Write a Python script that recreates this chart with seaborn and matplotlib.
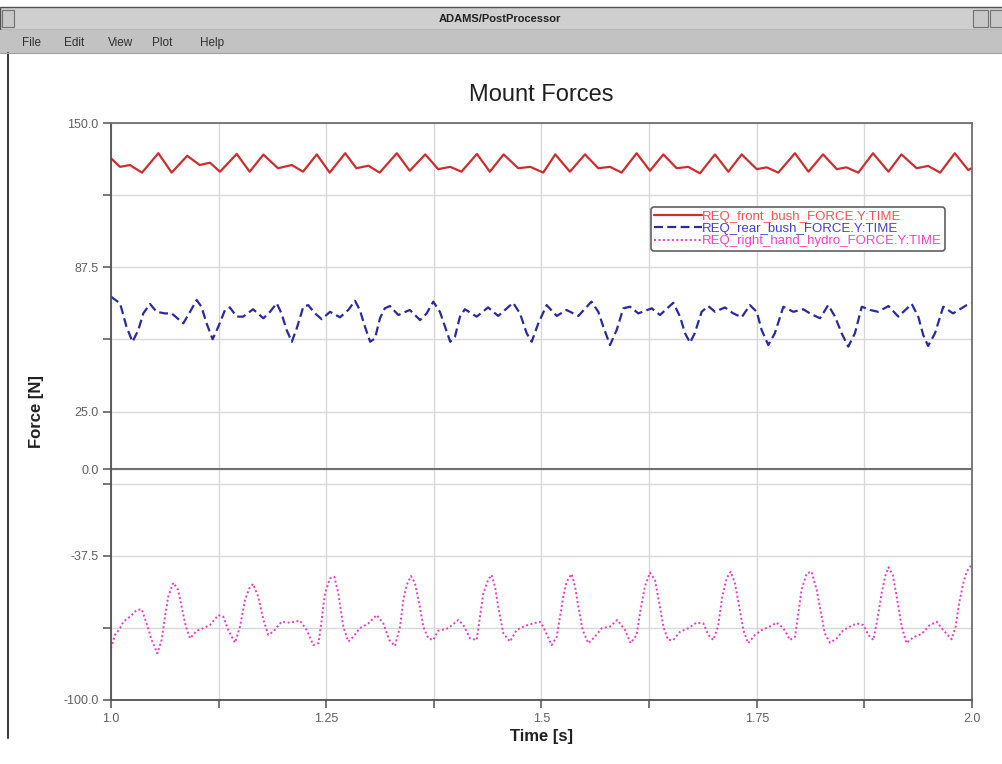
import matplotlib
matplotlib.use("Agg")
import matplotlib.pyplot as plt
from matplotlib.patches import Rectangle
from matplotlib.lines import Line2D
import seaborn as sns
import pandas as pd

# ---------------- data ----------------
front_t = [1.000, 1.0105, 1.022, 1.036, 1.055, 1.0705, 1.0885, 1.103, 1.115, 1.1266,
           1.146, 1.161, 1.177, 1.194, 1.210, 1.223, 1.239, 1.254, 1.272, 1.285,
           1.299, 1.312, 1.332, 1.347, 1.365, 1.380, 1.394, 1.407, 1.425, 1.440,
           1.456, 1.473, 1.487, 1.502, 1.516, 1.533, 1.5505, 1.566, 1.5796, 1.593,
           1.6105, 1.626, 1.6415, 1.657, 1.6705, 1.684, 1.7015, 1.717, 1.7325, 1.750,
           1.7615, 1.775, 1.7944, 1.810, 1.827, 1.843, 1.854, 1.868, 1.885, 1.903,
           1.918, 1.9357, 1.949, 1.963, 1.980, 1.9957, 2.0]
front_f = [134.7, 131, 131.8, 128.5, 136.9, 128.5, 135.8, 131.8, 132.8, 128.9,
           136.6, 128.9, 136.3, 130.4, 131.8, 128.9, 136.4, 128.5, 136.9, 130.4,
           131.5, 128.5, 136.9, 129.3, 136.4, 130, 131, 128.9, 136.6, 128.9,
           136.4, 130.4, 131, 128.5, 136.4, 128.9, 136.4, 130.4, 131, 128.5,
           136.9, 129.3, 136.4, 130.4, 131, 128.2, 136.4, 128.9, 136.4, 130,
           130.8, 128.5, 136.9, 128.9, 136.4, 130, 130.8, 128.5, 136.9, 128.9,
           136.4, 130.4, 131.4, 128.5, 136.9, 129.6, 130.5]

rear_t = [1.000, 1.0105, 1.018, 1.025, 1.0317, 1.0375, 1.0453, 1.053, 1.0627, 1.0705,
          1.084, 1.0918, 1.0995, 1.105, 1.111, 1.118, 1.1246, 1.1324, 1.138, 1.146,
          1.1536, 1.165, 1.177, 1.1847, 1.1925, 1.198, 1.204, 1.21, 1.2157, 1.2234,
          1.229, 1.237, 1.2447, 1.2544, 1.266, 1.2756, 1.2834, 1.289, 1.295, 1.301,
          1.3066, 1.3124, 1.318, 1.324, 1.3337, 1.347, 1.359, 1.3666, 1.3743, 1.382,
          1.388, 1.394, 1.3995, 1.4053, 1.411, 1.4247, 1.438, 1.4497, 1.467, 1.475,
          1.4828, 1.4886, 1.4963, 1.506, 1.5177, 1.529, 1.5428, 1.558, 1.566, 1.5718,
          1.5796, 1.5873, 1.595, 1.6028, 1.6124, 1.628, 1.6376, 1.653, 1.6609, 1.6667,
          1.6725, 1.678, 1.686, 1.6937, 1.7015, 1.713, 1.7228, 1.7325, 1.742, 1.75,
          1.7557, 1.7634, 1.771, 1.7809, 1.7925, 1.804, 1.8118, 1.8235, 1.833, 1.8409,
          1.8486, 1.8563, 1.864, 1.872, 1.8815, 1.891, 1.903, 1.9144, 1.93, 1.9376,
          1.9434, 1.949, 1.957, 1.9666, 1.978, 1.9938, 2.0]
rear_f = [74.7, 71.9, 61.7, 55.2, 60.3, 67.5, 71.6, 68.2, 67.5, 67.5,
          63.2, 68.2, 73.3, 70.4, 63.2, 56.3, 61.7, 69, 70.1, 66.1,
          66.1, 69.3, 65.4, 68.2, 71.9, 67.5, 60.3, 55.2, 61, 70.4,
          71.1, 67.5, 65, 68.2, 65.8, 69, 73, 69, 61.7, 55.2,
          56.7, 65.4, 69.7, 70.7, 66.8, 69, 64.6, 67.5, 72.6, 68.2,
          61.7, 55.2, 57.4, 66.1, 69.3, 66.1, 70.1, 66.4, 72.1, 67.5,
          58.9, 55.2, 63.2, 71.1, 66.4, 69, 66.4, 72.6, 68.2, 61.7,
          53.8, 60.3, 69.7, 70.4, 67.5, 69.7, 66.8, 72.1, 66.1, 58.9,
          54.8, 58.9, 68.2, 70.7, 68.2, 70.1, 67.5, 65.8, 71.1, 68.2,
          60.3, 53.8, 58.9, 70.4, 68.2, 69.3, 67.5, 65.4, 71.1, 66.1,
          58.9, 53.1, 58.9, 70.4, 69, 68.2, 70.7, 66.1, 71.6, 66.1,
          58.1, 53.4, 58.9, 70.4, 67.5, 71.1, 72]

hydro_t = [1.000, 1.0046, 1.0105, 1.0143, 1.022, 1.0298, 1.0356, 1.0414, 1.0472, 1.0538,
           1.0588, 1.0627, 1.0665, 1.0724, 1.078, 1.082, 1.087, 1.0918, 1.0995, 1.107,
           1.115, 1.1246, 1.1304, 1.1362, 1.144, 1.1498, 1.1556, 1.1606, 1.165, 1.171,
           1.177, 1.1827, 1.1885, 1.198, 1.208, 1.2195, 1.2273, 1.235, 1.241, 1.2447,
           1.2485, 1.2544, 1.2594, 1.264, 1.2698, 1.2756, 1.2814, 1.289, 1.2988, 1.3085,
           1.3163, 1.3232, 1.3298, 1.3357, 1.3395, 1.3434, 1.3484, 1.353, 1.358, 1.3627,
           1.3685, 1.3743, 1.380, 1.3918, 1.4034, 1.4092, 1.417, 1.4247, 1.4286, 1.4324,
           1.438, 1.442, 1.446, 1.4497, 1.4556, 1.4634, 1.471, 1.4808, 1.4905, 1.4983,
           1.502, 1.5118, 1.5177, 1.5215, 1.5253, 1.5292, 1.535, 1.539, 1.5428, 1.5478,
           1.5544, 1.562, 1.570, 1.5796, 1.588, 1.597, 1.6035, 1.6105, 1.615, 1.62,
           1.626, 1.6318, 1.6368, 1.6415, 1.647, 1.653, 1.661, 1.6705, 1.680, 1.688,
           1.6937, 1.6995, 1.705, 1.710, 1.715, 1.7197, 1.7247, 1.7297, 1.7344, 1.740,
           1.748, 1.7557, 1.765, 1.773, 1.781, 1.7886, 1.7944, 1.7983, 1.802, 1.808,
           1.8137, 1.8196, 1.8254, 1.829, 1.835, 1.843, 1.8506, 1.8583, 1.866, 1.8738,
           1.8796, 1.8854, 1.890, 1.895, 1.899, 1.903, 1.908, 1.9125, 1.9183, 1.924,
           1.9318, 1.9415, 1.951, 1.959, 1.9666, 1.9763, 1.981, 1.985, 1.9899, 1.9938,
           1.998, 2.0]
hydro_f = [-77.6, -71.8, -68.9, -66.1, -63.9, -61, -60.7, -66.8, -74, -79.8,
           -74, -63.9, -55.2, -49.2, -52.3, -59.6, -68.2, -73.3, -70, -68.9,
           -67.5, -63.2, -63.9, -69.7, -75.2, -68.2, -56.7, -51.6, -49.7, -55.2,
           -65.3, -71.8, -70.4, -66.1, -66.5, -65.6, -69.7, -76.2, -75.4, -65.3,
           -53.8, -47.3, -46.6, -53.8, -68.2, -74.7, -72.6, -68.9, -66.8, -63.2,
           -66.8, -74, -76.6, -68.2, -56.7, -50.2, -46.3, -49.4, -58.1, -68.2,
           -73.3, -74, -70, -68.9, -65.3, -67.5, -73.3, -74, -63.9, -53.8,
           -48, -45.8, -50.9, -59.6, -71.1, -74.7, -69.7, -67.9, -66.8, -66.1,
           -68.2, -76.2, -72.6, -63.9, -55.2, -48.7, -45.4, -50.9, -59.6, -69.7,
           -75.4, -72.6, -68.9, -68.2, -65.3, -69.7, -75.4, -71.8, -61, -50.9,
           -44.8, -48, -58.1, -68.2, -74, -74, -70.4, -68.9, -66.5, -66.8,
           -71.8, -74, -68.2, -55.2, -47.3, -44.4, -49.4, -59.6, -69.7, -75.4,
           -71.8, -69.7, -68.2, -66.5, -68.9, -74, -72.6, -62.4, -52.3, -45.1,
           -44.4, -52.3, -63.9, -71.1, -75.2, -73.3, -69.7, -68.2, -66.8, -67.5,
           -71.8, -74, -65.3, -53.8, -46.6, -42.5, -45.8, -55.2, -68.2, -75.4,
           -72.8, -71.4, -67.5, -66.1, -69.7, -73.7, -68.2, -58.1, -49.4, -44.4,
           -42.2, -41]

series_labels = ["REQ_front_bush_FORCE.Y:TIME",
                 "REQ_rear_bush_FORCE.Y:TIME",
                 "REQ_right_hand_hydro_FORCE.Y:TIME"]

y_ticks = [150, 118.75, 87.5, 56.25, 25, 0, -6.25, -37.5, -68.75, -100]
y_ticklabels = ["150.0", "", "87.5", "", "25.0", "0.0", "", "-37.5", "", "-100.0"]
x_ticks = [1.0, 1.125, 1.25, 1.375, 1.5, 1.625, 1.75, 1.875, 2.0]
x_ticklabels = ["1.0", "", "1.25", "", "1.5", "", "1.75", "", "2.0"]

# ---------------- style ----------------
sns.set_theme(style="white")
plt.rcParams["font.family"] = ["Liberation Sans", "DejaVu Sans"]

W, H = 1003, 764
fig = plt.figure(figsize=(W / 100, H / 100), dpi=100)
fig.patch.set_facecolor("white")

# window chrome
def fr(x0, y0, x1, y1, **kw):
    r = Rectangle((x0 / W, 1 - y1 / H), (x1 - x0) / W, (y1 - y0) / H,
                  transform=fig.transFigure, **kw)
    fig.add_artist(r)

fr(0, 7, 1003, 30, facecolor="#cfcfcf", edgecolor="#505050", linewidth=1.0)
fr(0, 30, 1003, 53, facecolor="#c2c2c2", edgecolor="none")
fr(2, 10, 14, 27, facecolor="#c8c8c8", edgecolor="#707070", linewidth=0.8)
fr(973, 10, 988, 27, facecolor="#c8c8c8", edgecolor="#707070", linewidth=0.8)
fr(990, 10, 1003, 27, facecolor="#c8c8c8", edgecolor="#707070", linewidth=0.8)
fig.add_artist(Line2D([8 / W, 8 / W], [1 - 53 / H, 1 - 738 / H], transform=fig.transFigure,
                      color="#404040", linewidth=1.5))
fig.add_artist(Line2D([0, 1], [1 - 53 / H, 1 - 53 / H], transform=fig.transFigure,
                      color="#a0a0a0", linewidth=0.8))
fig.text(500 / W, 1 - 19 / H, "ADAMS/PostProcessor", ha="center", va="center",
         fontsize=8, fontweight="bold", color="#202020")
for mx, name in [(22, "File"), (64, "Edit"), (108, "View"), (152, "Plot"), (200, "Help")]:
    fig.text(mx / W, 1 - 43 / H, name, ha="left", va="center", fontsize=8.5, color="#303030")

# axes
L, R, T, B = 111, 972, 123, 700
ax = fig.add_axes([L / W, 1 - B / H, (R - L) / W, (B - T) / H])
ax.set_facecolor("white")

sns.lineplot(x=front_t, y=front_f, ax=ax, color="#cc2e2e", linewidth=1.6,
             linestyle="-", label=series_labels[0], sort=False, estimator=None,
             solid_joinstyle="round")
sns.lineplot(x=rear_t, y=rear_f, ax=ax, color="#2a2aa0", linewidth=1.6,
             linestyle=(0, (4, 2)), label=series_labels[1], sort=False, estimator=None)
sns.lineplot(x=hydro_t, y=hydro_f, ax=ax, color="#e83cc0", linewidth=1.4,
             linestyle=(0, (1, 1.3)), label=series_labels[2], sort=False, estimator=None)

ax.set_xlim(1.0, 2.0)
ax.set_ylim(-100, 150)
ax.set_xticks(x_ticks)
ax.set_xticklabels(x_ticklabels)
ax.set_yticks(y_ticks)
ax.set_yticklabels(y_ticklabels)
ax.grid(True, color="#d8d8d8", linewidth=1.0)
ax.axhline(0, color="#707070", linewidth=1.5, zorder=1.5)
ax.tick_params(axis="both", which="both", direction="out", length=6, width=1.2,
               color="#606060", labelsize=9, labelcolor="#606060", pad=3,
               left=True, bottom=True)
for s in ax.spines.values():
    s.set_color("#707070")
    s.set_linewidth(1.3)
ax.spines["left"].set_color("#505050")
ax.spines["bottom"].set_color("#505050")

ax.set_title("Mount Forces", fontsize=17, color="#202020", pad=16)
ax.set_xlabel("Time [s]", fontsize=12, fontweight="bold", color="#202020")
ax.set_ylabel("Force [N]", fontsize=12, fontweight="bold", color="#202020")
ax.xaxis.set_label_coords(0.5, -0.050)
ax.yaxis.set_label_coords(-0.078, 0.5)

leg = ax.legend(loc="upper right", bbox_to_anchor=(0.9686, 0.854), fontsize=9.5,
                handlelength=3.6, handletextpad=0.0, labelspacing=0.0,
                borderpad=0.25, borderaxespad=0, fancybox=True, framealpha=1,
                edgecolor="#606060")
leg.get_frame().set_linewidth(1.2)
for txt, c in zip(leg.get_texts(), ["#ff5050", "#4040d0", "#ff40c8"]):
    txt.set_color(c)

fig.savefig("out.png", dpi=100, facecolor="white")
